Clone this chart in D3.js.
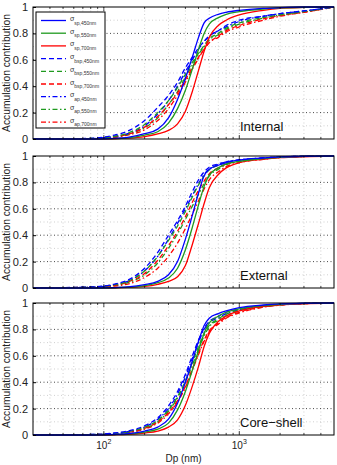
<!DOCTYPE html>
<html>
<head>
<meta charset="utf-8">
<script src="https://cdn.jsdelivr.net/npm/d3@7"></script>
<style>
  body { margin: 0; background: #fff; }
  svg { display: block; font-family: "Liberation Sans", Arial, sans-serif; }
</style>
</head>
<body>
<svg id="chart" width="337" height="465"></svg>
<script>
// particle diameter (nm) sampled along each curve
const dp = [30, 80, 120, 150, 200, 250, 300, 350, 400, 450, 500, 550, 600, 700, 800, 1000, 1500, 2000, 3000, 5000];

// Internal mixing
const intSp450  = [0, 0, 0.005, 0.012, 0.04, 0.075, 0.16, 0.3, 0.46, 0.62, 0.77, 0.88, 0.915, 0.945, 0.96, 0.975, 0.99, 0.995, 1, 1];
const intSp550  = [0, 0, 0.003, 0.009, 0.03, 0.055, 0.12, 0.23, 0.37, 0.53, 0.68, 0.8, 0.87, 0.92, 0.945, 0.965, 0.985, 0.993, 0.998, 1];
const intSp700  = [0, 0, 0.002, 0.006, 0.018, 0.038, 0.065, 0.115, 0.21, 0.36, 0.52, 0.665, 0.77, 0.86, 0.9, 0.94, 0.975, 0.99, 0.997, 1];
const intBsp450 = [0, 0.005, 0.03, 0.06, 0.14, 0.24, 0.33, 0.43, 0.54, 0.62, 0.69, 0.74, 0.78, 0.82, 0.86, 0.9, 0.93, 0.95, 0.97, 1];
const intBsp550 = [0, 0.004, 0.02, 0.045, 0.11, 0.2, 0.29, 0.39, 0.49, 0.58, 0.65, 0.71, 0.76, 0.8, 0.84, 0.88, 0.92, 0.94, 0.965, 1];
const intBsp700 = [0, 0.003, 0.015, 0.035, 0.09, 0.17, 0.26, 0.35, 0.45, 0.54, 0.62, 0.68, 0.73, 0.78, 0.82, 0.86, 0.91, 0.935, 0.96, 1];
const intAp450  = [0, 0.003, 0.02, 0.04, 0.1, 0.19, 0.29, 0.4, 0.51, 0.6, 0.68, 0.74, 0.78, 0.82, 0.85, 0.89, 0.93, 0.95, 0.97, 1];
const intAp550  = [0, 0.002, 0.015, 0.035, 0.085, 0.16, 0.26, 0.36, 0.47, 0.56, 0.64, 0.7, 0.75, 0.79, 0.83, 0.87, 0.915, 0.94, 0.965, 1];
const intAp700  = [0, 0.002, 0.012, 0.03, 0.07, 0.14, 0.23, 0.33, 0.43, 0.53, 0.61, 0.68, 0.73, 0.77, 0.81, 0.85, 0.9, 0.93, 0.96, 1];

// External mixing
const extSp450  = [0, 0, 0.003, 0.008, 0.025, 0.05, 0.1, 0.2, 0.37, 0.55, 0.72, 0.85, 0.9, 0.93, 0.95, 0.97, 0.985, 0.993, 0.998, 1];
const extSp550  = [0, 0, 0.002, 0.006, 0.018, 0.04, 0.075, 0.15, 0.29, 0.46, 0.63, 0.77, 0.855, 0.91, 0.94, 0.96, 0.98, 0.99, 0.997, 1];
const extSp700  = [0, 0, 0.001, 0.004, 0.012, 0.028, 0.05, 0.085, 0.17, 0.33, 0.49, 0.64, 0.76, 0.86, 0.91, 0.95, 0.975, 0.987, 0.995, 1];
const extBsp450 = [0, 0.008, 0.03, 0.06, 0.15, 0.27, 0.4, 0.51, 0.62, 0.73, 0.82, 0.88, 0.915, 0.94, 0.955, 0.97, 0.985, 0.993, 0.998, 1];
const extBsp550 = [0, 0.007, 0.025, 0.05, 0.13, 0.24, 0.36, 0.47, 0.58, 0.69, 0.78, 0.85, 0.895, 0.93, 0.95, 0.965, 0.983, 0.99, 0.997, 1];
const extBsp700 = [0, 0.006, 0.02, 0.045, 0.11, 0.21, 0.32, 0.43, 0.54, 0.65, 0.74, 0.81, 0.865, 0.91, 0.94, 0.96, 0.98, 0.99, 0.997, 1];
const extAp450  = [0, 0.006, 0.025, 0.05, 0.13, 0.24, 0.37, 0.49, 0.6, 0.7, 0.79, 0.86, 0.9, 0.935, 0.955, 0.97, 0.985, 0.993, 0.998, 1];
const extAp550  = [0, 0.005, 0.02, 0.04, 0.1, 0.19, 0.3, 0.41, 0.52, 0.62, 0.71, 0.79, 0.85, 0.9, 0.935, 0.96, 0.98, 0.99, 0.997, 1];
const extAp700  = [0, 0.004, 0.015, 0.03, 0.08, 0.15, 0.24, 0.34, 0.45, 0.56, 0.66, 0.75, 0.82, 0.88, 0.92, 0.95, 0.975, 0.988, 0.996, 1];

// Core-shell mixing
const csSp450  = [0, 0, 0.004, 0.01, 0.03, 0.06, 0.12, 0.24, 0.4, 0.56, 0.71, 0.83, 0.885, 0.92, 0.94, 0.965, 0.985, 0.993, 0.998, 1];
const csSp550  = [0, 0, 0.003, 0.008, 0.022, 0.045, 0.09, 0.19, 0.33, 0.49, 0.64, 0.77, 0.85, 0.9, 0.93, 0.955, 0.98, 0.99, 0.997, 1];
const csSp700  = [0, 0, 0.002, 0.005, 0.015, 0.03, 0.06, 0.115, 0.225, 0.37, 0.52, 0.67, 0.77, 0.86, 0.9, 0.94, 0.975, 0.987, 0.995, 1];
const csBsp450 = [0, 0.004, 0.015, 0.03, 0.07, 0.13, 0.22, 0.33, 0.46, 0.6, 0.72, 0.81, 0.86, 0.9, 0.93, 0.955, 0.98, 0.99, 0.997, 1];
const csBsp550 = [0, 0.003, 0.012, 0.025, 0.06, 0.11, 0.19, 0.29, 0.41, 0.55, 0.67, 0.77, 0.83, 0.88, 0.915, 0.945, 0.975, 0.987, 0.996, 1];
const csBsp700 = [0, 0.003, 0.01, 0.02, 0.05, 0.1, 0.17, 0.26, 0.37, 0.5, 0.62, 0.72, 0.79, 0.85, 0.89, 0.93, 0.97, 0.985, 0.995, 1];
const csAp450  = [0, 0.003, 0.012, 0.025, 0.06, 0.12, 0.2, 0.31, 0.44, 0.58, 0.7, 0.8, 0.85, 0.89, 0.92, 0.95, 0.978, 0.99, 0.997, 1];
const csAp550  = [0, 0.003, 0.01, 0.02, 0.05, 0.1, 0.18, 0.28, 0.4, 0.53, 0.65, 0.75, 0.82, 0.87, 0.905, 0.94, 0.972, 0.986, 0.996, 1];
const csAp700  = [0, 0.002, 0.008, 0.017, 0.045, 0.09, 0.16, 0.25, 0.36, 0.49, 0.61, 0.71, 0.78, 0.84, 0.885, 0.925, 0.968, 0.984, 0.995, 1];

const seriesNames = ["sp,450nm", "sp,550nm", "sp,700nm", "bsp,450nm", "bsp,550nm", "bsp,700nm", "ap,450nm", "ap,550nm", "ap,700nm"];
const panelNames = ["Internal", "External", "Core\u2212shell"];
const yTicks = [0, 0.2, 0.4, 0.6, 0.8, 1];
const xTicks = [100, 1000];

const panelData = [
  [intSp450, intSp550, intSp700, intBsp450, intBsp550, intBsp700, intAp450, intAp550, intAp700],
  [extSp450, extSp550, extSp700, extBsp450, extBsp550, extBsp700, extAp450, extAp550, extAp700],
  [csSp450, csSp550, csSp700, csBsp450, csBsp550, csBsp700, csAp450, csAp550, csAp700]
];

const colors = ["#0000ff", "#1f9a1f", "#ff0000"];
const dashes = [null, "5,3", "5,2.5,1.5,2.5"];

const svg = d3.select("#chart");
const left = 33, right = 334;
const panelTops = [7, 156, 303];
const panelH = 132;

const x = d3.scaleLog().domain([30, 5000]).range([left, right]);

// minor log ticks for grid
const minorX = [];
[10, 100, 1000].forEach(function (dec) {
  for (let k = 2; k < 10; k++) {
    const v = dec * k;
    if (v > 30 && v < 5000) minorX.push(v);
  }
});

panelData.forEach(function (series, p) {
  const top = panelTops[p];
  const y = d3.scaleLinear().domain([0, 1]).range([top + panelH, top]);
  const g = svg.append("g");

  // grid
  minorX.forEach(function (v) {
    g.append("line").attr("x1", x(v)).attr("x2", x(v)).attr("y1", top).attr("y2", top + panelH)
      .attr("stroke", "#bbb").attr("stroke-width", 0.7).attr("stroke-dasharray", "1,2.5");
  });
  xTicks.forEach(function (v) {
    g.append("line").attr("x1", x(v)).attr("x2", x(v)).attr("y1", top).attr("y2", top + panelH)
      .attr("stroke", "#888").attr("stroke-width", 0.8).attr("stroke-dasharray", "1,2.5");
  });
  d3.range(1, 10, 2).forEach(function (i) {
    g.append("line").attr("x1", left).attr("x2", right).attr("y1", y(i / 10)).attr("y2", y(i / 10))
      .attr("stroke", "#bbb").attr("stroke-width", 0.7).attr("stroke-dasharray", "1,2.5");
  });
  yTicks.slice(1, -1).forEach(function (v) {
    g.append("line").attr("x1", left).attr("x2", right).attr("y1", y(v)).attr("y2", y(v))
      .attr("stroke", "#333").attr("stroke-width", 0.9).attr("stroke-dasharray", "1,2.5");
  });

  // curves
  const line = d3.line()
    .x(function (d, i) { return x(dp[i]); })
    .y(function (d) { return y(d); })
    .curve(d3.curveMonotoneX);

  // draw in reverse so blue ends up on top
  for (let s = series.length - 1; s >= 0; s--) {
    g.append("path")
      .attr("d", line(series[s]))
      .attr("fill", "none")
      .attr("stroke", colors[s % 3])
      .attr("stroke-width", 1.3)
      .attr("stroke-dasharray", dashes[Math.floor(s / 3)]);
  }

  // axes box
  g.append("rect").attr("x", left).attr("y", top).attr("width", right - left).attr("height", panelH)
    .attr("fill", "none").attr("stroke", "#000").attr("stroke-width", 1);

  const yAxis = d3.axisLeft(y).tickValues(yTicks).tickSizeInner(-3).tickSizeOuter(0).tickPadding(5)
    .tickFormat(function (d) { return d === 0 || d === 1 ? String(d) : d.toFixed(1); });
  const ya = g.append("g").attr("transform", "translate(" + left + ",0)").call(yAxis);
  ya.select(".domain").remove();
  ya.selectAll("text").attr("font-size", 11).attr("fill", "#222").attr("font-family", "Liberation Sans, Arial, sans-serif");

  // bottom and top ticks inside
  minorX.concat(xTicks).forEach(function (v) {
    const len = xTicks.indexOf(v) >= 0 ? 4 : 2;
    g.append("line").attr("x1", x(v)).attr("x2", x(v)).attr("y1", top + panelH).attr("y2", top + panelH - len).attr("stroke", "#000").attr("stroke-width", 0.7);
    g.append("line").attr("x1", x(v)).attr("x2", x(v)).attr("y1", top).attr("y2", top + len).attr("stroke", "#000").attr("stroke-width", 0.7);
  });

  // y label
  g.append("text")
    .attr("transform", "translate(10," + (top + panelH / 2) + ") rotate(-90)")
    .attr("text-anchor", "middle")
    .attr("font-size", 10.3)
    .attr("fill", "#222")
    .text("Accumulation contribution");

  // panel name
  g.append("text").attr("x", 240).attr("y", top + panelH - 8)
    .attr("font-size", 13).attr("fill", "#111").text(panelNames[p]);
});

// x tick labels on bottom panel
const bottom = panelTops[2] + panelH;
xTicks.forEach(function (v) {
  const t = svg.append("text").attr("x", x(v)).attr("y", bottom + 14).attr("text-anchor", "middle")
    .attr("font-size", 10).attr("fill", "#222");
  t.append("tspan").text("10");
  t.append("tspan").attr("dy", -5).attr("font-size", 7).text(Math.round(Math.log10(v)));
});
svg.append("text").attr("x", (left + right) / 2).attr("y", bottom + 27).attr("text-anchor", "middle")
  .attr("font-size", 10).attr("fill", "#222").text("Dp (nm)");

// legend
const lg = svg.append("g");
lg.append("rect").attr("x", 36).attr("y", 12).attr("width", 69).attr("height", 116)
  .attr("fill", "#fff").attr("stroke", "#000").attr("stroke-width", 1);
seriesNames.forEach(function (name, i) {
  const ry = 20.5 + i * 12.7;
  lg.append("line").attr("x1", 41).attr("x2", 66).attr("y1", ry).attr("y2", ry)
    .attr("stroke", colors[i % 3]).attr("stroke-width", 1.3)
    .attr("stroke-dasharray", dashes[Math.floor(i / 3)]);
  const t = lg.append("text").attr("x", 70).attr("y", ry + 0.5).attr("font-size", 7).attr("fill", "#333");
  t.append("tspan").text("\u03c3");
  t.append("tspan").attr("dy", 3.5).attr("font-size", 5).text(name);
});
</script>
</body>
</html>
